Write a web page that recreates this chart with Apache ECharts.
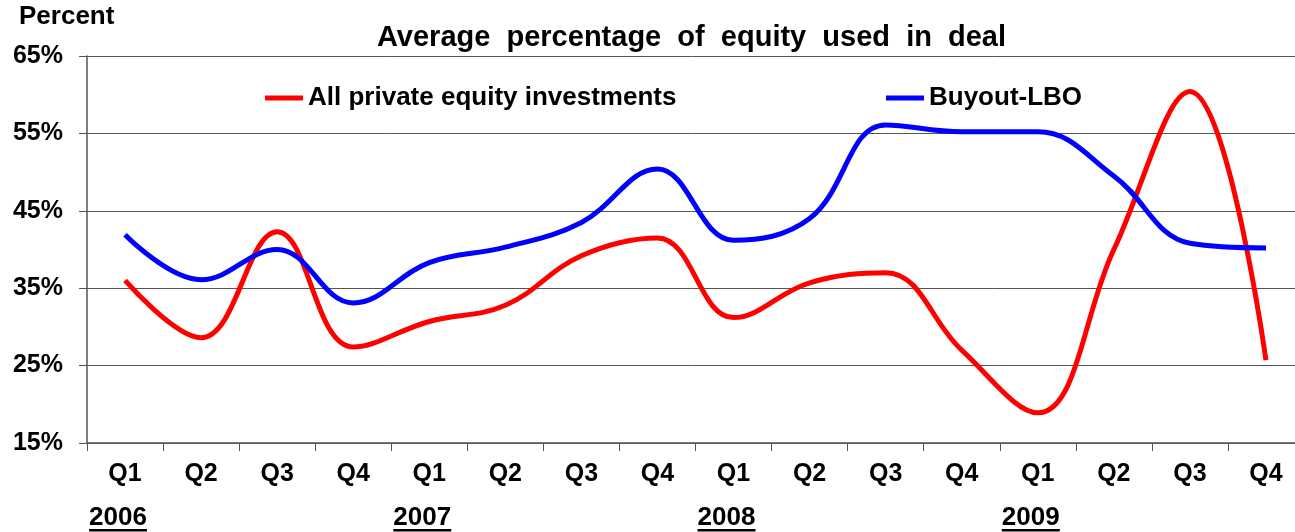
<!DOCTYPE html>
<html>
<head>
<meta charset="utf-8">
<script src="https://cdn.jsdelivr.net/npm/echarts@6/dist/echarts.min.js"></script>
<style>
  html, body { margin: 0; padding: 0; background: #fff; }
  #main { width: 1295px; height: 532px; }
</style>
</head>
<body>
<div id="main"></div>
<script>
// quarters 2006 Q1 .. 2009 Q4
const quarters = ['Q1', 'Q2', 'Q3', 'Q4', 'Q1', 'Q2', 'Q3', 'Q4', 'Q1', 'Q2', 'Q3', 'Q4', 'Q1', 'Q2', 'Q3', 'Q4']
const years = ['2006', '2007', '2008', '2009']
const allPE = [36, 28.6, 42.3, 27.4, 30.7, 32.8, 39.2, 41.5, 31.2, 35.7, 37, 27, 18.9, 40, 60.4, 25.7]
const buyout = [41.9, 36.1, 40, 33.1, 38.3, 40.3, 43.5, 50.4, 41.2, 44, 56.1, 55.2, 55.2, 49.5, 40.8, 40.2]

const FONT = '"Liberation Sans", Arial, sans-serif'
const chart = echarts.init(document.getElementById('main'))

const option = {
  animation: false,
  textStyle: { fontFamily: FONT },
  title: {
    // double spaces: the original has wide word spacing
    text: 'Average  percentage  of  equity  used  in  deal',
    left: 372,
    top: 18,
    textStyle: { fontSize: 29, fontWeight: 'bold', color: '#000', fontFamily: FONT }
  },
  legend: [
    {
      data: ['All private equity investments'],
      left: 260,
      top: 80,
      icon: 'rect',
      itemWidth: 38,
      itemHeight: 5,
      textStyle: { fontSize: 26, fontWeight: 'bold', color: '#000', fontFamily: FONT }
    },
    {
      data: ['Buyout-LBO'],
      left: 881,
      top: 80,
      icon: 'rect',
      itemWidth: 38,
      itemHeight: 5,
      textStyle: { fontSize: 26, fontWeight: 'bold', color: '#000', fontFamily: FONT }
    }
  ],
  // plot runs a little past the right edge of the picture
  grid: { left: 87, width: 1217, top: 56, bottom: 89, outerBoundsMode: 'none' },
  xAxis: {
    type: 'category',
    data: quarters,
    boundaryGap: true,
    axisLine: { lineStyle: { color: '#555', width: 1.5 } },
    axisTick: { show: true, length: 8, lineStyle: { color: '#555' } },
    axisLabel: { margin: 19, fontSize: 25, fontWeight: 'bold', color: '#000', fontFamily: FONT }
  },
  yAxis: {
    type: 'value',
    min: 15,
    max: 65,
    interval: 10,
    axisLine: { show: true, lineStyle: { color: '#555', width: 1.5 } },
    axisTick: { show: true, length: 8, lineStyle: { color: '#555' } },
    splitLine: { lineStyle: { color: '#555', width: 1 } },
    axisLabel: {
      margin: 24,
      formatter: '{value}%',
      fontSize: 25,
      fontWeight: 'bold',
      color: '#000',
      fontFamily: FONT
    }
  },
  series: [
    {
      name: 'All private equity investments',
      type: 'line',
      data: allPE,
      smooth: 0.4,
      symbol: 'none',
      lineStyle: { color: '#ff0000', width: 5 },
      itemStyle: { color: '#ff0000' }
    },
    {
      name: 'Buyout-LBO',
      type: 'line',
      data: buyout,
      smooth: 0.4,
      symbol: 'none',
      lineStyle: { color: '#0000ff', width: 5 },
      itemStyle: { color: '#0000ff' }
    }
  ]
}

chart.setOption(option)

// year labels under every Q1 (sitting a bit left of it), underlined
const graphics = [
  {
    type: 'text',
    left: 19,
    top: 4,
    style: { text: 'Percent', font: 'bold 26px ' + FONT, fill: '#000' }
  }
]
years.forEach((y, i) => {
  const x = chart.convertToPixel({ xAxisIndex: 0 }, i * 4) - 7
  graphics.push({
    type: 'text',
    x: x,
    y: 518,
    style: { text: y, font: 'bold 26px ' + FONT, fill: '#000', align: 'center', verticalAlign: 'middle' }
  })
  graphics.push({
    type: 'rect',
    shape: { x: x - 29, y: 529, width: 58, height: 2.5 },
    style: { fill: '#000' }
  })
})
chart.setOption({ graphic: graphics })
</script>
</body>
</html>
